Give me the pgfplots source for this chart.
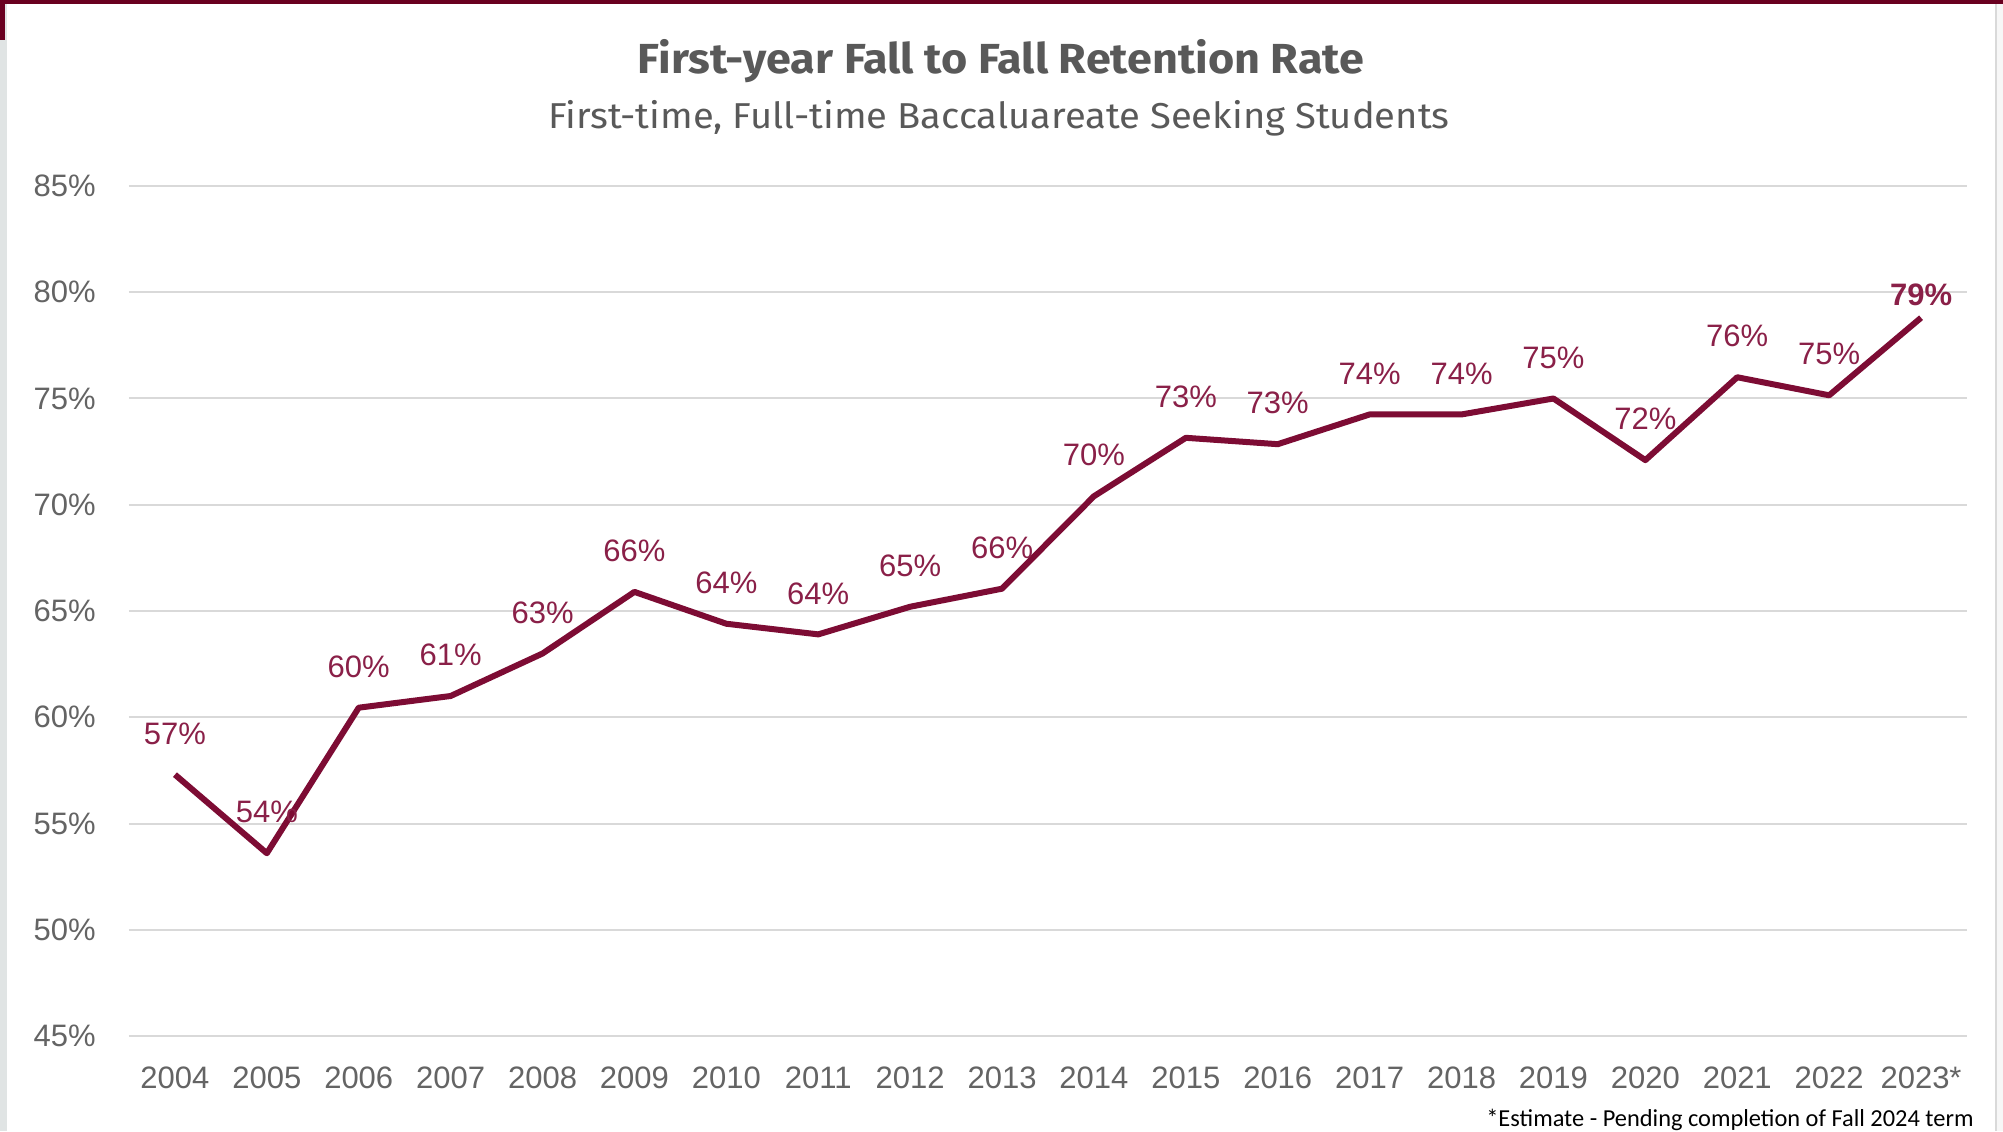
\documentclass[border=0pt]{standalone}
\usepackage{fontspec}
\usepackage{pgfplots}
\usepackage{pgfplotstable}
\pgfplotsset{compat=1.18}
\setmainfont{Liberation Sans}
\newfontfamily\titlefont[FakeStretch=1.07]{Fira Sans}
\newfontfamily\subtitlefont[FakeStretch=1.06]{Fira Sans}
\newfontfamily\notefont{Carlito}
\definecolor{linemaroon}{RGB}{125,12,52}
\definecolor{labmaroon}{RGB}{138,32,72}
\definecolor{tickgray}{RGB}{100,100,100}
\definecolor{titlegray}{RGB}{89,89,89}
\definecolor{gridgray}{RGB}{217,217,217}
\definecolor{framegray}{RGB}{224,228,228}
\definecolor{topbar}{RGB}{105,0,32}

\pgfplotstableread{
x y lab
0 57.3 57
1 53.6 54
2 60.45 60
3 61.0 61
4 63.0 63
5 65.9 66
6 64.4 64
7 63.9 64
8 65.2 65
9 66.05 66
10 70.4 70
11 73.15 73
12 72.85 73
13 74.25 74
14 74.25 74
15 75.0 75
16 72.1 72
17 76.0 76
18 75.15 75
19 78.8 79
}\retention

\begin{document}
\begin{tikzpicture}
\path[use as bounding box] (0pt,0pt) rectangle (1001.5pt,565.5pt);
\fill[white] (0pt,0pt) rectangle (1001.5pt,565.5pt);
\fill[framegray] (0pt,0pt) rectangle (3.5pt,565.5pt);
\fill[black!3] (997.5pt,0pt) rectangle (1001.5pt,565.5pt);
\fill[black!15] (997.5pt,0pt) rectangle (998.5pt,565.5pt);
\fill[topbar] (0pt,563.5pt) rectangle (1001.5pt,565.5pt);
\fill[topbar] (0pt,545.5pt) rectangle (2.5pt,565.5pt);
\begin{axis}[
  at={(64.5pt,47.5pt)}, anchor=south west,
  scale only axis, width=919pt, height=425pt,
  xmin=-0.5, xmax=19.5, ymin=45, ymax=85,
  xtick={0,...,19},
  xticklabels={2004,2005,2006,2007,2008,2009,2010,2011,2012,2013,2014,2015,2016,2017,2018,2019,2020,2021,2022,2023*},
  ytick={45,50,...,85},
  yticklabels={45\%,50\%,55\%,60\%,65\%,70\%,75\%,80\%,85\%},
  axis line style={draw=none},
  major tick length=0pt,
  tick style={draw=none},
  ymajorgrids,
  grid style={gridgray, line width=1pt},
  tick label style={font=\fontsize{15.5}{18}\selectfont, text=tickgray},
  xticklabel style={anchor=base, inner sep=0pt, yshift=-26pt},
  yticklabel style={anchor=east, inner sep=0pt, xshift=-16.5pt},
  clip=false,
]
\addplot[linemaroon, line width=3pt, line join=round, mark=none] table[x=x, y=y] {\retention};
\addplot[draw=none, mark=none,
  point meta=explicit symbolic,
  skip coords between index={19}{20},
  nodes near coords={\pgfplotspointmeta\%},
  every node near coord/.style={anchor=center, inner sep=0pt, yshift=20.5pt, text=labmaroon, font=\fontsize{15.5}{18}\selectfont},
] table[x=x, y=y, meta=lab] {\retention};
\addplot[draw=none, mark=none,
  point meta=explicit symbolic,
  skip coords between index={0}{19},
  nodes near coords={\pgfplotspointmeta\%},
  every node near coord/.style={anchor=center, inner sep=0pt, yshift=11.5pt, text=labmaroon, font=\bfseries\fontsize{15.5}{18}\selectfont},
] table[x=x, y=y, meta=lab] {\retention};
\end{axis}
\node[anchor=base, text=titlegray, font=\titlefont\bfseries\fontsize{21}{25}\selectfont] at (500.5pt,528.5pt) {First-year Fall to Fall Retention Rate};
\node[anchor=base, text=titlegray, font=\subtitlefont\fontsize{18}{21}\selectfont] at (499.5pt,501pt) {First-time, Full-time Baccaluareate Seeking Students};
\node[anchor=base east, inner sep=0pt, text=black, font=\notefont\fontsize{12.2}{14}\selectfont] at (987pt,2.5pt) {*Estimate - Pending completion of Fall 2024 term};
\end{tikzpicture}
\end{document}
